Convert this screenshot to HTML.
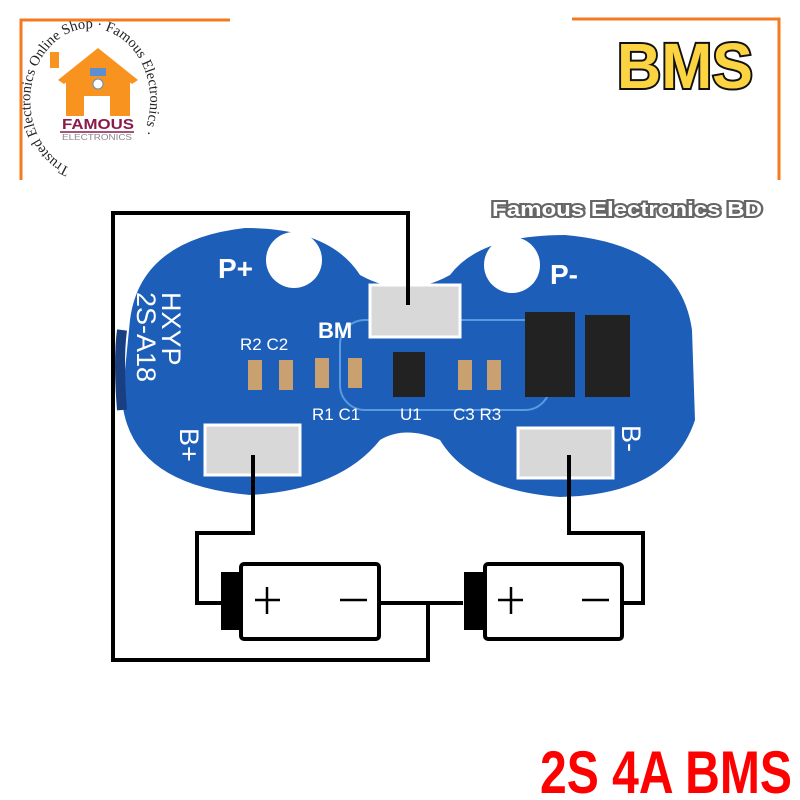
<!DOCTYPE html>
<html><head><meta charset="utf-8"><style>html,body{margin:0;padding:0;background:#fff}svg{display:block}</style></head>
<body>
<svg width="800" height="800" viewBox="0 0 800 800" xmlns="http://www.w3.org/2000/svg" font-family="Liberation Sans, sans-serif">
<rect width="800" height="800" fill="#fff"/>
<path d="M21 180 V20 H230" fill="none" stroke="#f47a20" stroke-width="3"/>
<path d="M572 19 H779 V180" fill="none" stroke="#f47a20" stroke-width="3"/>
<defs><path id="circ" d="M70 168 A60 72 0 1 1 95 172"/></defs>
<text font-family="Liberation Serif, serif" font-size="14.5" fill="#222"><textPath href="#circ">Trusted Electronics Online Shop · Famous Electronics ·</textPath></text>
<path d="M58 80 L98 48 L138 80 L132 84 L98 57 L64 84 Z" fill="#f7931e"/>
<rect x="50" y="52" width="9" height="16" fill="#f7931e"/>
<rect x="66" y="74" width="64" height="42" fill="#f7931e"/>
<path d="M66 80 L98 56 L130 80 Z" fill="#f7931e"/>
<rect x="84" y="96" width="26" height="20" fill="#fff"/>
<rect x="90" y="68" width="16" height="8" fill="#5b8fd0"/>
<circle cx="98" cy="84" r="5" fill="#fff" stroke="#5b8fd0"/>
<text x="62" y="129" font-size="15" font-weight="bold" fill="#8b1a4a" textLength="72" lengthAdjust="spacingAndGlyphs">FAMOUS</text>
<line x1="60" y1="132" x2="134" y2="132" stroke="#8b1a4a" stroke-width="1.5"/>
<text x="62" y="140" font-size="8" fill="#888" textLength="70" lengthAdjust="spacingAndGlyphs">ELECTRONICS</text>
<text x="685" y="88" font-size="64" font-weight="bold" text-anchor="middle" fill="#fcd340" stroke="#111" stroke-width="4" paint-order="stroke" textLength="136" lengthAdjust="spacingAndGlyphs">BMS</text>
<text x="627" y="216" font-size="20" font-weight="bold" text-anchor="middle" fill="#fff" stroke="#666" stroke-width="4" paint-order="stroke" textLength="270" lengthAdjust="spacingAndGlyphs">Famous Electronics BD</text>
<g>
<path d="M130 320 Q140 240 245 228 Q330 228 360 275 Q405 300 450 275 Q480 235 565 235 Q680 245 692 330 L695 420 Q670 495 560 497 Q470 490 440 440 Q405 425 380 440 Q340 490 250 495 Q130 485 122 400 Z" fill="#1d5fb8"/>
<path d="M122 330 Q118 360 122 410" stroke="#1a3f80" stroke-width="10" fill="none"/>
<circle cx="294" cy="260" r="28" fill="#fff"/>
<circle cx="512" cy="265" r="28" fill="#fff"/>
<rect x="340" y="320" width="210" height="90" rx="25" fill="none" stroke="#5a9ae0" stroke-width="2"/>
<rect x="370" y="285" width="90" height="52" fill="#d8d8d8" stroke="#fff" stroke-width="3"/>
<rect x="205" y="425" width="95" height="50" fill="#d8d8d8" stroke="#fff" stroke-width="3"/>
<rect x="518" y="428" width="95" height="50" fill="#d8d8d8" stroke="#fff" stroke-width="3"/>
<rect x="525" y="312" width="50" height="85" fill="#222"/>
<rect x="585" y="315" width="45" height="82" fill="#222"/>
<rect x="393" y="352" width="32" height="45" fill="#222"/>
<g fill="#c9a070"><rect x="248" y="360" width="14" height="30"/><rect x="279" y="360" width="14" height="30"/><rect x="315" y="358" width="14" height="30"/><rect x="348" y="358" width="14" height="30"/><rect x="458" y="360" width="14" height="30"/><rect x="487" y="360" width="14" height="30"/></g>
<g fill="#fff" font-size="28" font-weight="bold"><text x="218" y="278">P+</text><text x="550" y="284">P-</text><text x="318" y="338" font-size="22">BM</text></g>
<g fill="#fff" font-size="17"><text x="240" y="350">R2 C2</text><text x="312" y="420">R1 C1</text><text x="400" y="420">U1</text><text x="453" y="420">C3 R3</text></g>
<text transform="translate(162,292) rotate(90)" font-size="27" fill="#fff">HXYP</text>
<text transform="translate(137,292) rotate(90)" font-size="27" fill="#fff">2S-A18</text>
<text transform="translate(180,428) rotate(90)" font-size="27" fill="#fff">B+</text>
<text transform="translate(622,425) rotate(90)" font-size="27" fill="#fff">B-</text>
</g>
<g fill="none" stroke="#000" stroke-width="4">
<path d="M408 305 V213 H113 V660 H428 V603"/>
<path d="M253 455 V533 H197 V603 H221"/>
<path d="M569 455 V533 H643 V603 H623"/>
<path d="M380 603 H463"/>
<rect x="241" y="564" width="138" height="75" rx="3"/>
<rect x="485" y="564" width="137" height="75" rx="3"/>
</g>
<rect x="221" y="572" width="20" height="58" fill="#000"/>
<rect x="464" y="572" width="21" height="58" fill="#000"/>
<g stroke="#000" stroke-width="2.5"><path d="M255 600 H280 M267 587 V614 M340 600 H367 M498 600 H523 M511 587 V614 M582 600 H609"/></g>
<text x="540" y="793" font-size="60" font-weight="bold" fill="#f00" textLength="252" lengthAdjust="spacingAndGlyphs">2S 4A BMS</text>
</svg>
</body></html>
